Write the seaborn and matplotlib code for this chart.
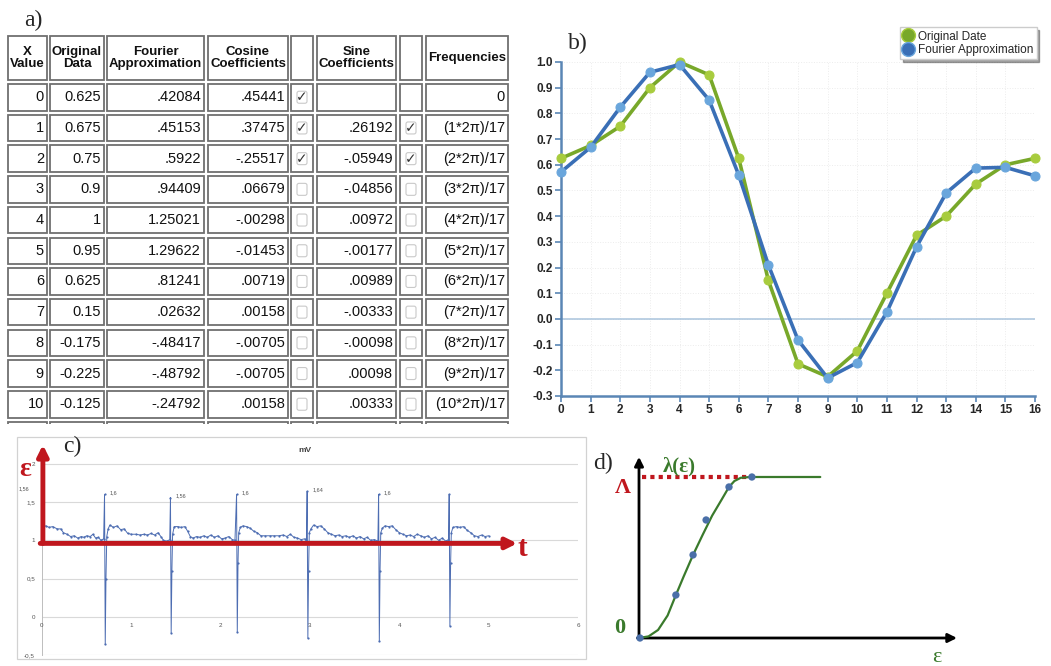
import numpy as np
import pandas as pd
import matplotlib
matplotlib.use('Agg')
import matplotlib.pyplot as plt
from matplotlib.patches import Rectangle, FancyBboxPatch
from matplotlib.lines import Line2D
import seaborn as sns

sns.set_theme(style='white')
plt.rcParams['font.family'] = ['Liberation Sans', 'DejaVu Sans']
SERIF = ['Liberation Serif', 'DejaVu Serif']

W, H = 1051, 666

# ---------------- data ----------------
# a) table + b) chart
x_vals = list(range(17))
orig_data = [0.625, 0.675, 0.75, 0.9, 1, 0.95, 0.625, 0.15, -0.175, -0.225, -0.125,
             0.1, 0.325, 0.4, 0.525, 0.6, 0.625]
fourier_curve = [0.572, 0.668, 0.824, 0.96, 0.99, 0.852, 0.56, 0.21, -0.082, -0.23, -0.17,
                 0.027, 0.28, 0.49, 0.587, 0.59, 0.557]

fourier_col = ['.42084', '.45153', '.5922', '.94409', '1.25021', '1.29622', '.81241',
               '.02632', '-.48417', '-.48792', '-.24792']
cosine_col = ['.45441', '.37475', '-.25517', '.06679', '-.00298', '-.01453', '.00719',
              '.00158', '-.00705', '-.00705', '.00158']
sine_col = ['', '.26192', '-.05949', '-.04856', '.00972', '-.00177', '.00989',
            '-.00333', '-.00098', '.00098', '.00333']
cos_checked = [1, 1, 1, 0, 0, 0, 0, 0, 0, 0, 0]
sin_checked = [None, 1, 1, 0, 0, 0, 0, 0, 0, 0, 0]
freq_col = ['0'] + ['(%d*2\u03c0)/17' % k for k in range(1, 11)]
headers = ['X\nValue', 'Original\nData', 'Fourier\nApproximation', 'Cosine\nCoefficients',
           '', 'Sine\nCoefficients', '', 'Frequencies']

b_yticks = [-0.3, -0.2, -0.1, 0.0, 0.1, 0.2, 0.3, 0.4, 0.5, 0.6, 0.7, 0.8, 0.9, 1.0]

# c) mV trace
ecg_t = [0.00, 0.04, 0.08, 0.12, 0.17, 0.21, 0.24, 0.28, 0.32, 0.36, 0.40, 0.44, 0.47, 0.50,
         0.54, 0.57, 0.60, 0.63, 0.66, 0.69,
         0.700, 0.708, 0.716, 0.725,
         0.74, 0.76, 0.80, 0.84, 0.88, 0.92, 0.96, 1.00, 1.05, 1.10, 1.14, 1.18, 1.22, 1.26,
         1.30, 1.33, 1.36, 1.40, 1.43,
         1.438, 1.446, 1.454, 1.462,
         1.48, 1.52, 1.56, 1.60, 1.63, 1.66, 1.69, 1.73, 1.77, 1.81, 1.85, 1.89, 1.93, 1.97,
         2.01, 2.05, 2.09, 2.13, 2.16,
         2.178, 2.186, 2.194, 2.202,
         2.22, 2.25, 2.29, 2.33, 2.37, 2.41, 2.45, 2.50, 2.55, 2.60, 2.65, 2.70, 2.74, 2.78,
         2.82, 2.86, 2.90, 2.94, 2.96,
         2.968, 2.976, 2.984, 2.992,
         3.01, 3.04, 3.08, 3.12, 3.16, 3.20, 3.24, 3.28, 3.32, 3.36, 3.40, 3.44, 3.48, 3.52,
         3.56, 3.60, 3.64, 3.68, 3.72, 3.76,
         3.768, 3.776, 3.784, 3.792,
         3.81, 3.84, 3.88, 3.92, 3.96, 4.00, 4.04, 4.08, 4.12, 4.16, 4.20, 4.24, 4.28, 4.32,
         4.36, 4.40, 4.44, 4.48, 4.52, 4.55,
         4.558, 4.566, 4.574, 4.582,
         4.60, 4.64, 4.68, 4.72, 4.76, 4.80, 4.84, 4.88, 4.92, 4.96, 5.00]
ecg_mv = [1.17, 1.19, 1.17, 1.18, 1.15, 1.15, 1.10, 1.08, 1.05, 1.06, 1.03, 1.05, 1.04, 1.06,
          1.05, 1.08, 1.03, 1.04, 1.00, 1.02,
          1.60, -0.36, 0.50, 1.05,
          1.15, 1.20, 1.17, 1.19, 1.14, 1.15, 1.09, 1.08, 1.08, 1.07, 1.08, 1.07, 1.09, 1.07,
          1.10, 1.05, 1.00, 0.99, 1.01,
          1.56, -0.21, 0.60, 1.08,
          1.18, 1.18, 1.17, 1.18, 1.12, 1.05, 1.03, 1.05, 1.04, 1.06, 1.04, 1.07, 1.04, 1.06,
          1.02, 1.03, 1.05, 1.01, 1.00,
          1.60, -0.20, 0.70, 1.10,
          1.17, 1.19, 1.18, 1.16, 1.12, 1.10, 1.06, 1.06, 1.06, 1.06, 1.06, 1.07, 1.05, 1.08,
          1.04, 1.03, 1.01, 1.02, 1.00,
          1.64, -0.28, 0.60, 1.10,
          1.15, 1.20, 1.18, 1.19, 1.15, 1.10, 1.08, 1.06, 1.07, 1.05, 1.06, 1.04, 1.06, 1.03,
          1.05, 1.02, 1.04, 1.00, 1.01, 0.99,
          1.60, -0.32, 0.60, 1.10,
          1.16, 1.19, 1.18, 1.19, 1.14, 1.10, 1.08, 1.06, 1.07, 1.05, 1.08, 1.06, 1.04, 1.06,
          1.02, 1.04, 1.00, 1.03, 0.99, 1.01,
          1.60, -0.12, 0.70, 1.10,
          1.17, 1.18, 1.17, 1.18, 1.13, 1.10, 1.06, 1.05, 1.07, 1.05, 1.06]
peak_t = [0.700, 1.438, 2.178, 2.968, 3.768]
peak_labels = ['1,6', '1,56', '1,6', '1,64', '1,6']
peak_vals = [1.60, 1.56, 1.60, 1.64, 1.60]
c_yticks = [-0.5, 0, 0.5, 1, 1.5, 2]
c_ylabels = ['-0,5', '0', '0,5', '1', '1,5', '2']
c_xticks = [0, 1, 2, 3, 4, 5, 6]

# d) lambda(eps)
curve_x = [0.0, 0.03, 0.06, 0.09, 0.116, 0.14, 0.17, 0.20, 0.23, 0.26, 0.283, 0.30, 0.32,
           0.35, 0.40, 0.45, 0.50, 0.57]
curve_y = [0.0, 0.01, 0.05, 0.14, 0.267, 0.38, 0.516, 0.64, 0.76, 0.86, 0.938, 0.975, 0.995,
           1.0, 1.0, 1.0, 1.0, 1.0]
dot_x = [0.003, 0.116, 0.170, 0.211, 0.283, 0.355]
dot_y = [0.0, 0.267, 0.516, 0.733, 0.938, 1.0]
lambda_max = 1.0


def fig_box(x0, y0, x1, y1):
    # pixel box -> figure fraction rect
    return [x0 / W, 1 - y1 / H, (x1 - x0) / W, (y1 - y0) / H]


fig = plt.figure(figsize=(W / 100, H / 100), dpi=100)
fig.patch.set_facecolor('white')

# ---------------- a) table ----------------
ax_a = fig.add_axes(fig_box(0, 0, 520, 424))
ax_a.set_xlim(0, 520)
ax_a.set_ylim(424, 0)
ax_a.axis('off')

col_bounds = [(7, 48), (49, 105), (106, 205), (207, 289), (290, 314), (316, 397), (399, 423), (425, 509)]
row_bounds = [(35, 81)] + [(83 + i * 30.7, 83 + i * 30.7 + 28.5) for i in range(12)]

for r, (y0, y1) in enumerate(row_bounds):
    for c, (x0, x1) in enumerate(col_bounds):
        ax_a.add_patch(Rectangle((x0 + 1, y0 + 1), x1 - x0 - 2, y1 - y0 - 2, facecolor='white',
                                 edgecolor='#6f6f6f', lw=1.3))
        if r == 0:
            ax_a.text((x0 + x1) / 2, (y0 + y1) / 2, headers[c], ha='center', va='center',
                      fontsize=9.5, fontweight='bold', linespacing=1.0, color='#111')
            continue
        i = r - 1
        if i > 10:
            continue
        cy = (y0 + y1) / 2
        cells = [str(x_vals[i]), f'{orig_data[i]:g}', fourier_col[i], cosine_col[i], None,
                 sine_col[i], None, freq_col[i]]
        if cells[c] is not None:
            ax_a.text(x1 - 4, cy, cells[c], ha='right', va='center', fontsize=10.5, color='#111')
        else:
            chk = cos_checked[i] if c == 4 else sin_checked[i]
            if chk is None:
                continue
            cx = (x0 + x1) / 2
            ax_a.add_patch(FancyBboxPatch((cx - 5, cy - 6), 10, 12, boxstyle='round,pad=0,rounding_size=2',
                                          facecolor='white', edgecolor='#c9c9c9', lw=0.8))
            if chk:
                ax_a.text(cx, cy, '\u2713', ha='center', va='center', fontsize=10,
                          family='DejaVu Sans', color='#333')

fig.text(33 / W, 1 - 20 / H, 'a)', fontsize=17, family=SERIF, ha='center', va='center')

# ---------------- b) line chart ----------------
green_line, green_mk = '#78a82a', '#a8cc3e'
blue_line, blue_mk = '#3a6fb6', '#6aa6dc'
ax_b = fig.add_axes(fig_box(561, 62, 1035, 396))
df_orig = pd.DataFrame({'x': x_vals, 'value': orig_data})
df_four = pd.DataFrame({'x': x_vals, 'value': fourier_curve})
sns.lineplot(data=df_orig, x='x', y='value', ax=ax_b, color=green_line, lw=2.6, marker='o',
             markersize=6.5, markerfacecolor=green_mk, markeredgecolor=green_mk, clip_on=False, zorder=3)
sns.lineplot(data=df_four, x='x', y='value', ax=ax_b, color=blue_line, lw=2.6, marker='o',
             markersize=6.5, markerfacecolor=blue_mk, markeredgecolor=blue_mk, clip_on=False, zorder=4)
ax_b.set_xlim(0, 16)
ax_b.set_ylim(-0.3, 1.0)
ax_b.set_xticks(x_vals)
ax_b.set_yticks(b_yticks)
ax_b.set_xticklabels([str(v) for v in x_vals], fontweight='bold')
ax_b.set_yticklabels([f'{v:.1f}' for v in b_yticks], fontweight='bold')
ax_b.set_xlabel('')
ax_b.set_ylabel('')
ax_b.axhline(0, color='#a9c4dd', lw=1.1, zorder=1)
ax_b.grid(True, color='#ececec', ls=':', lw=0.7)
spine_c = '#5a86b5'
for s in ['top', 'right']:
    ax_b.spines[s].set_visible(False)
for s in ['left', 'bottom']:
    ax_b.spines[s].set_color(spine_c)
    ax_b.spines[s].set_linewidth(1.8)
ax_b.tick_params(axis='both', direction='out', length=4, width=1.2, color=spine_c,
                 labelsize=8.5, pad=2, left=True, bottom=True)
fig.text(578 / W, 1 - 43 / H, 'b)', fontsize=17, family=SERIF, ha='center', va='center')

handles = [Line2D([], [], ls='', marker='o', markersize=10, markerfacecolor=green_line, markeredgecolor=green_mk),
           Line2D([], [], ls='', marker='o', markersize=10, markerfacecolor=blue_line, markeredgecolor=blue_mk)]
fig.legend(handles, ['Original Date', 'Fourier Approximation'], loc='upper left',
           bbox_to_anchor=(900 / W, 1 - 27 / H), fontsize=8.5, frameon=True, shadow=True,
           fancybox=False, edgecolor='#cccccc', handlelength=0.8, handletextpad=0.4,
           borderpad=0.3, labelspacing=0.1, borderaxespad=0)

# ---------------- c) mV trace ----------------
red = '#c0171e'
fig.add_artist(Rectangle((17 / W, 1 - 659 / H), (586 - 17) / W, (659 - 437) / H,
                         transform=fig.transFigure, fill=False, edgecolor='#d2d2d2', lw=0.9))
ax_c = fig.add_axes(fig_box(42, 441, 578, 655))
ax_c.set_xlim(0, 6)
ax_c.set_ylim(-0.5, 2.3)
ax_c.set_yticks(c_yticks)
ax_c.set_yticklabels(c_ylabels)
ax_c.set_xticks([])
ax_c.tick_params(axis='y', labelsize=4.5, labelcolor='#555', length=0, pad=5)
ax_c.grid(axis='y', color='#d9d9d9', lw=0.8)
for s in ['top', 'right', 'bottom']:
    ax_c.spines[s].set_visible(False)
ax_c.spines['left'].set_color('#bdbdbd')
ax_c.spines['left'].set_linewidth(0.7)
ax_c.spines['left'].set_bounds(-0.5, 2)
for k in c_xticks:
    ax_c.text(k, -0.12, str(k), fontsize=4.5, color='#555', ha='center', va='center')
sns.lineplot(x=ecg_t, y=ecg_mv, ax=ax_c, sort=False, estimator=None, color='#4d6db2', lw=0.7,
             marker='o', markersize=1.6, markeredgewidth=0)
for tx, lab, val in zip(peak_t, peak_labels, peak_vals):
    ax_c.text(tx + 0.06, val + 0.02, lab, fontsize=4, color='#555', ha='left', va='center')
ax_c.text(-0.2, 1.68, '1,56', fontsize=4, color='#555', ha='center', va='center', clip_on=False)
ax_c.annotate('', xy=(0.01, 2.25), xytext=(0.01, 0.96), annotation_clip=False,
              arrowprops=dict(arrowstyle='-|>', color=red, lw=3.5, mutation_scale=16, shrinkA=0, shrinkB=0))
ax_c.annotate('', xy=(5.32, 0.96), xytext=(-0.02, 0.96), annotation_clip=False,
              arrowprops=dict(arrowstyle='-|>', color=red, lw=3.5, mutation_scale=16, shrinkA=0, shrinkB=0))
fig.text(305 / W, 1 - 451 / H, 'mV', fontsize=6, fontweight='bold', color='#444', ha='center', va='center')
fig.text(25 / W, 1 - 470 / H, '\u03b5', fontsize=20, fontweight='bold', family=SERIF, color=red,
         ha='center', va='center')
fig.text(522 / W, 1 - 549 / H, 't', fontsize=21, fontweight='bold', family=SERIF, color=red,
         ha='center', va='center')
fig.text(72 / W, 1 - 446 / H, 'c)', fontsize=17, family=SERIF, ha='center', va='center')

# ---------------- d) lambda(eps) ----------------
green_d = '#3a7a2c'
ax_d = fig.add_axes(fig_box(639, 477, 957, 638))
ax_d.set_xlim(0, 1)
ax_d.set_ylim(0, 1)
ax_d.axis('off')
ax_d.annotate('', xy=(0, 1.125), xytext=(0, -0.005), annotation_clip=False,
              arrowprops=dict(arrowstyle='-|>', color='black', lw=2, mutation_scale=13, shrinkA=0, shrinkB=0))
ax_d.annotate('', xy=(1.0, 0), xytext=(-0.005, 0), annotation_clip=False,
              arrowprops=dict(arrowstyle='-|>', color='black', lw=2, mutation_scale=13, shrinkA=0, shrinkB=0))
# x limits are (0, 1), so axes fraction equals data here
ax_d.axhline(lambda_max, xmin=0.01, xmax=dot_x[-1], color=red, ls=(0, (1, 1)), lw=3,
             zorder=2, clip_on=False)
sns.lineplot(x=curve_x, y=curve_y, ax=ax_d, sort=False, estimator=None, color=green_d, lw=1.6,
             clip_on=False, zorder=3)
sns.scatterplot(x=dot_x, y=dot_y, ax=ax_d, color='#4a6fa8', s=28, edgecolor='none', zorder=5, clip_on=False)
ax_d.set_xlabel('')
ax_d.set_ylabel('')
fig.text(603 / W, 1 - 463 / H, 'd)', fontsize=17, family=SERIF, ha='center', va='center')
fig.text(679 / W, 1 - 466 / H, '\u03bb(\u03b5)', fontsize=15, fontweight='bold', family=SERIF,
         color=green_d, ha='center', va='center')
fig.text(623 / W, 1 - 488 / H, '\u039b', fontsize=16, fontweight='bold', family=SERIF, color=red,
         ha='center', va='center')
fig.text(620 / W, 1 - 628 / H, '0', fontsize=16, fontweight='bold', family=SERIF, color=green_d,
         ha='center', va='center')
fig.text(937 / W, 1 - 658 / H, '\u03b5', fontsize=16, family=SERIF, color=green_d,
         ha='center', va='center')

plt.savefig('out.png', dpi=100)
plt.close()
